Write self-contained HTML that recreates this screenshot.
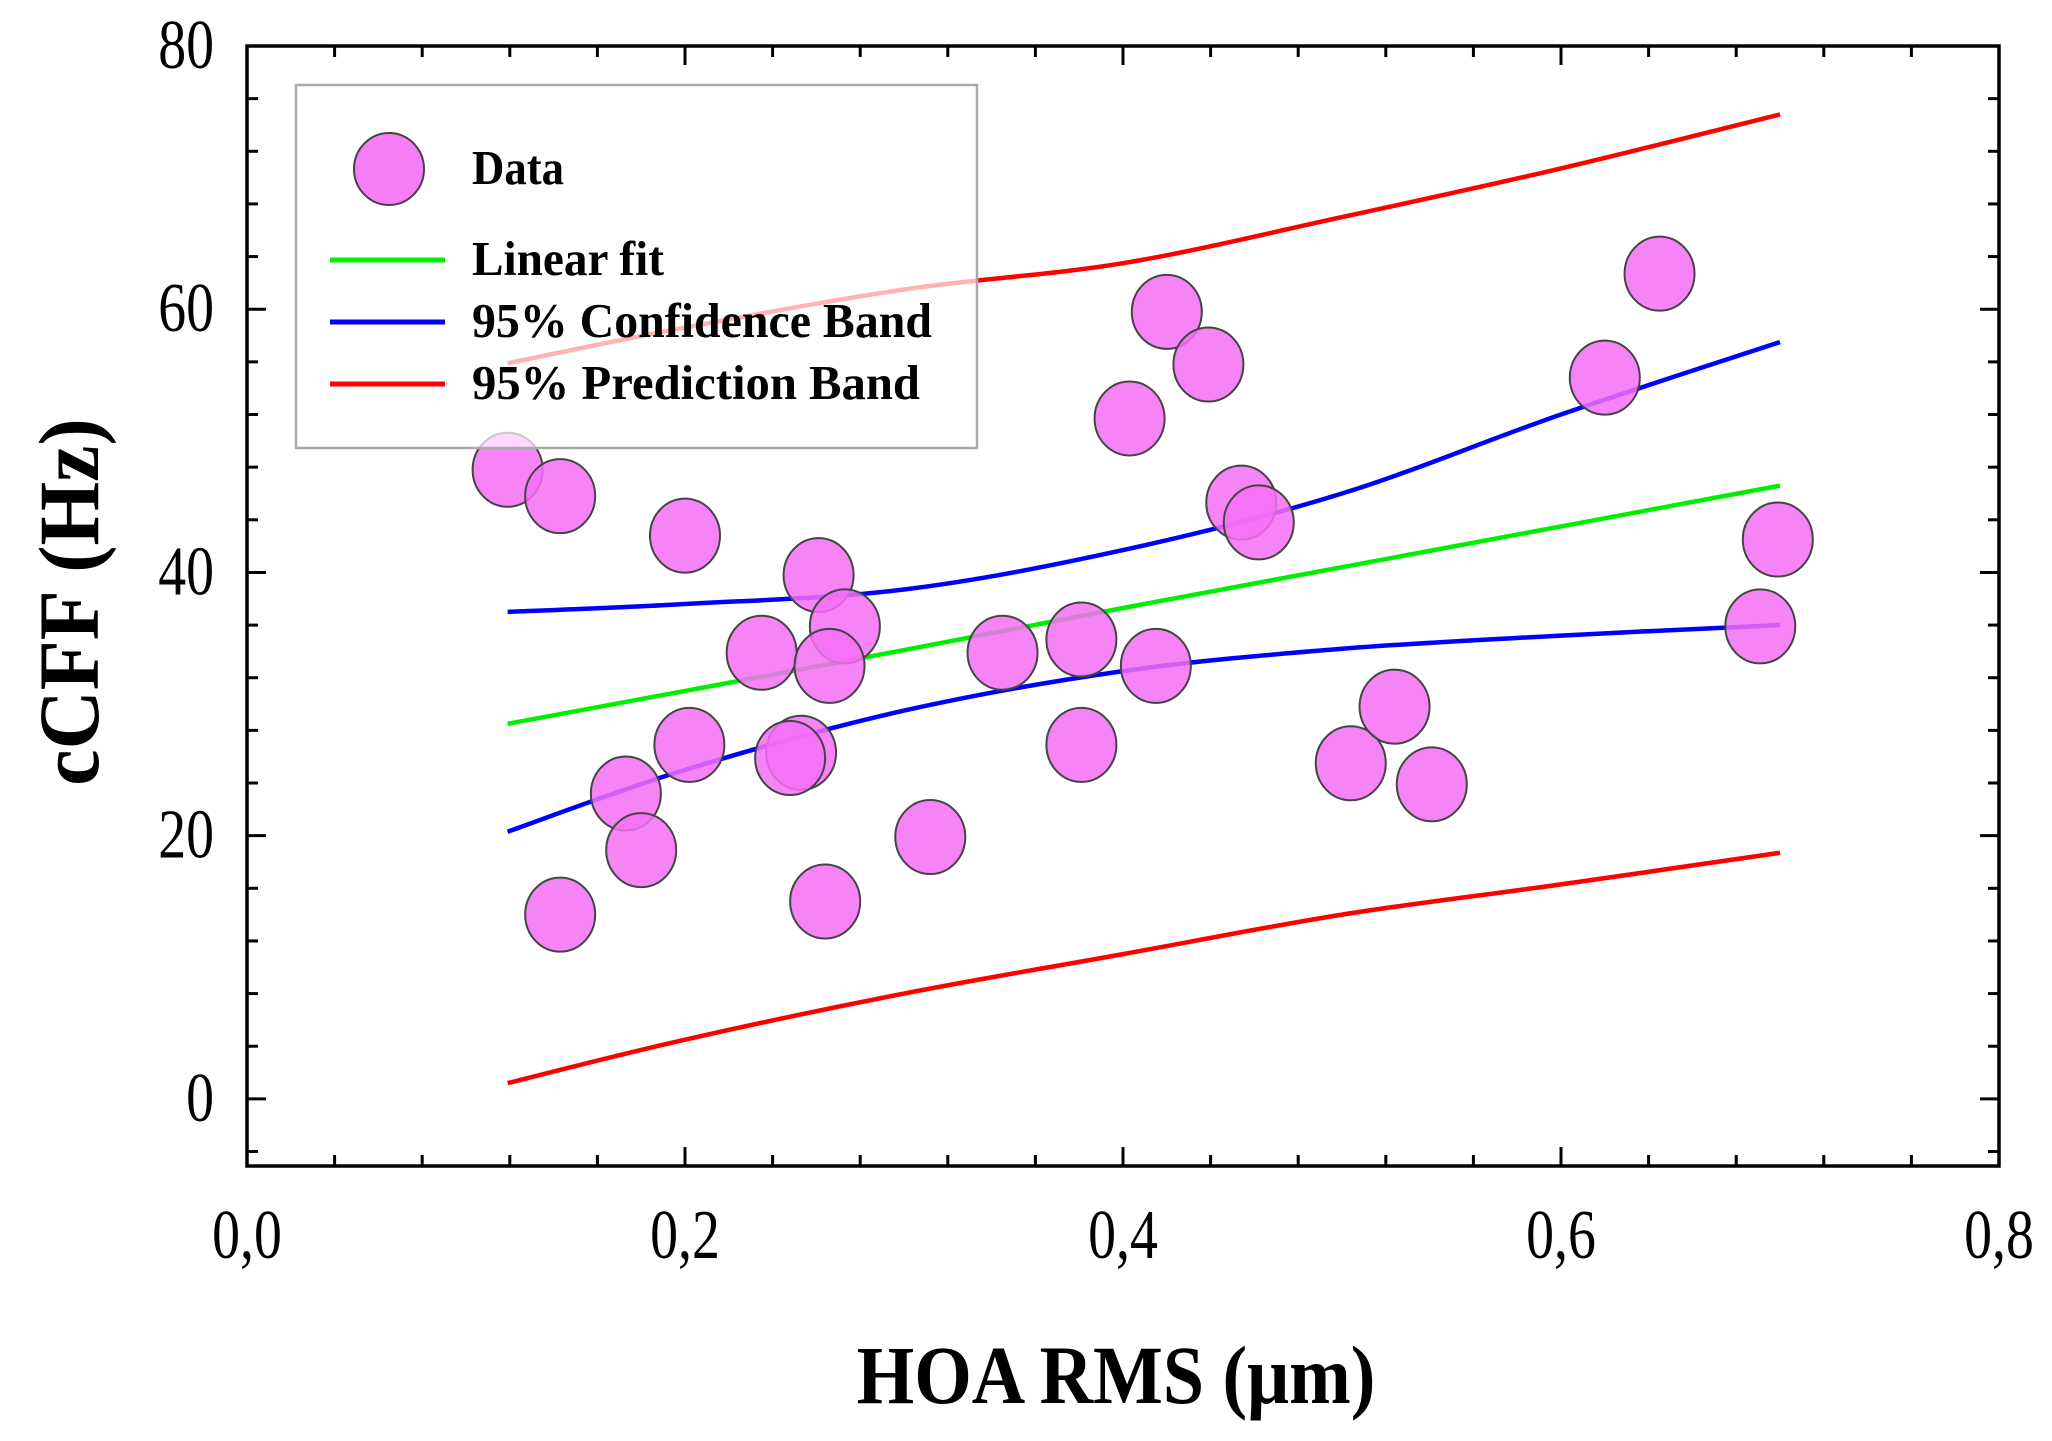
<!DOCTYPE html>
<html><head><meta charset="utf-8"><style>
html,body{margin:0;padding:0;background:#fff;}
svg{display:block;font-family:"Liberation Serif",serif;}
</style></head><body>
<svg id="chart" width="2052" height="1441" viewBox="0 0 2052 1441"></svg>
<script>
const dataX=[0.119,0.143,0.200,0.261,0.273,0.235,0.266,0.202,0.253,0.248,0.173,0.180,0.143,0.264,0.312,0.345,0.381,0.381,0.415,0.403,0.420,0.439,0.454,0.462,0.504,0.524,0.541,0.620,0.645,0.699,0.691];
const dataY=[47.8,45.8,42.8,39.8,35.9,33.9,32.9,26.9,26.3,25.9,23.2,18.9,14.0,15.0,19.9,33.9,34.9,26.9,32.9,51.7,59.8,55.8,45.3,43.8,25.5,29.8,23.9,54.8,62.7,42.5,35.9];
const bandX=[0.119,0.2,0.3,0.4,0.5,0.6,0.7];
const fitY=[28.5,31.0,34.1,37.3,40.4,43.5,46.6];
const confUpper=[37.0,37.6,38.7,41.7,46.0,52.0,57.5];
const confLower=[20.3,25.0,29.5,32.5,34.2,35.2,36.0];
const predUpper=[55.9,58.6,61.5,63.5,67.0,70.7,74.8];
const predLower=[1.2,4.5,8.0,11.0,14.0,16.3,18.7];
const xTicks=[0,0.2,0.4,0.6,0.8];
const xTickLabels=["0,0","0,2","0,4","0,6","0,8"];
const yTicks=[0,20,40,60,80];
const yTickLabels=["0","20","40","60","80"];

const L=247,R=1999,T=46,B=1166;
const xMin=0,xMax=0.8,yMin=-5.1,yMax=80;
const sx=v=>L+(v-xMin)/(xMax-xMin)*(R-L);
const sy=v=>B-(v-yMin)/(yMax-yMin)*(B-T);
const svg=document.getElementById('chart');
const NS='http://www.w3.org/2000/svg';
function mk(tag,attrs,parent){const e=document.createElementNS(NS,tag);for(const k in attrs)e.setAttribute(k,attrs[k]);(parent||svg).appendChild(e);return e;}

const ticks=mk('g',{stroke:'#000','stroke-width':3});


for(let i=0;i<=20;i++){const v=i*0.04;const x=sx(v);const maj=(i%5===0);const len=maj?19:11;
 mk('line',{x1:x,x2:x,y1:B,y2:B-len},ticks);mk('line',{x1:x,x2:x,y1:T,y2:T+len},ticks);}
for(let v=-4;v<=80;v+=4){const y=sy(v);const maj=(v%20===0);const len=maj?19:11;
 mk('line',{x1:L,x2:L+len,y1:y,y2:y},ticks);mk('line',{x1:R,x2:R-len,y1:y,y2:y},ticks);}
const frame=mk('rect',{x:L,y:T,width:R-L,height:B-T,fill:'none',stroke:'#000','stroke-width':3.5});



xTicks.forEach((v,i)=>{const t=mk('text',{x:0,y:0,'font-size':62,'text-anchor':'middle',transform:`translate(${sx(v)},1258) scale(0.9,1.12)`});t.textContent=xTickLabels[i];
 
 });
yTicks.forEach((v,i)=>{const t=mk('text',{x:0,y:0,'font-size':62,'text-anchor':'end',transform:`translate(214,${sy(v)+22}) scale(0.9,1.12)`});t.textContent=yTickLabels[i];
 
 });

function line(ys,color,name){
 const p=bandX.map((v,i)=>[sx(v),sy(ys[i])]);
 let d='M'+p[0][0].toFixed(1)+','+p[0][1].toFixed(1);
 for(let i=0;i<p.length-1;i++){const p0=p[i-1]||p[i],p1=p[i],p2=p[i+1],p3=p[i+2]||p2;
  const c1=[p1[0]+(p2[0]-p0[0])/6,p1[1]+(p2[1]-p0[1])/6],c2=[p2[0]-(p3[0]-p1[0])/6,p2[1]-(p3[1]-p1[1])/6];
  d+=`C${c1[0].toFixed(1)},${c1[1].toFixed(1)} ${c2[0].toFixed(1)},${c2[1].toFixed(1)} ${p2[0].toFixed(1)},${p2[1].toFixed(1)}`;}
 const e=mk('path',{d:d,fill:'none',stroke:color,'stroke-width':4.5});
 
 }

line(predUpper,'#ff0000','prediction-band-upper');
line(predLower,'#ff0000','prediction-band-lower');
line(confUpper,'#0000ff','confidence-band-upper');
line(confLower,'#0000ff','confidence-band-lower');
line(fitY,'#00ee00','linear-fit-line');

dataX.forEach((v,i)=>{const c=mk('ellipse',{cx:sx(v),cy:sy(dataY[i]),rx:35,ry:37,fill:'#f66ef6','fill-opacity':0.85,stroke:'#444','stroke-width':2});
 
 });

const lg=mk('g',{});


mk('rect',{x:296,y:85,width:681,height:363,fill:'#fff','fill-opacity':0.7,stroke:'#aaa','stroke-width':2.5},lg);
mk('ellipse',{cx:389,cy:169,rx:35,ry:36,fill:'#f87ef8',stroke:'#444','stroke-width':2},lg);
const items=[['Data',184,null],['Linear fit',275,'#00ee00'],['95% Confidence Band',337,'#0000ff'],['95% Prediction Band',399,'#ff0000']];
const widths=[92,192,460,448];
items.forEach((it,i)=>{
 if(it[2]){mk('line',{x1:330,x2:445,y1:it[1]-15,y2:it[1]-15,stroke:it[2],'stroke-width':5},lg);}
 const t=mk('text',{x:0,y:0,'font-size':44,'font-weight':'bold',textLength:widths[i],lengthAdjust:'spacingAndGlyphs',transform:`translate(472,${it[1]}) scale(1,1.1)`},lg);t.textContent=it[0];
 
 });

const xt=mk('text',{x:0,y:0,'font-size':74,'font-weight':'bold','text-anchor':'middle',transform:'translate(1116,1403) scale(1.0,1.12)'});xt.textContent='HOA RMS (μm)';


const yt=mk('text',{x:0,y:0,'font-size':78,'font-weight':'bold','text-anchor':'middle',transform:'translate(98,602) rotate(-90) scale(1.05,1.1)'});yt.textContent='cCFF (Hz)';


</script>
</body></html>
